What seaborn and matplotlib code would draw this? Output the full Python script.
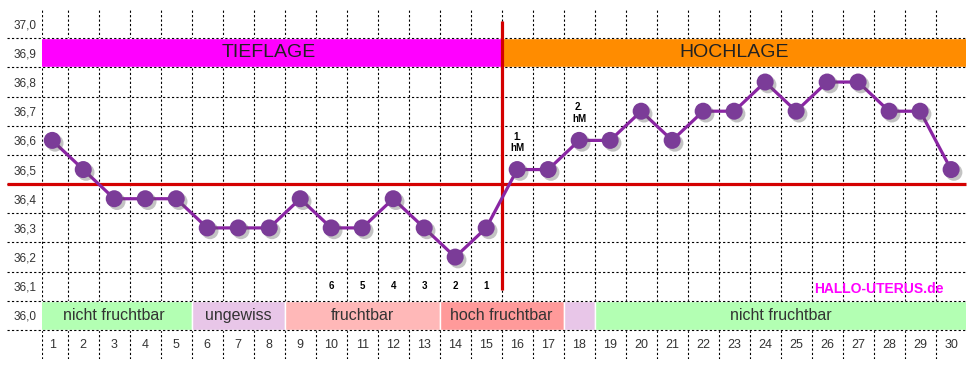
# Basaltemperatur-Kurve (NFP) - Zyklusblatt

import matplotlib
matplotlib.use('Agg')
import matplotlib.pyplot as plt
import matplotlib.patheffects as pe
import seaborn as sns

# Daten
days = list(range(1, 31))
temps = [36.6, 36.5, 36.4, 36.4, 36.4, 36.3, 36.3, 36.3, 36.4, 36.3,
         36.3, 36.4, 36.3, 36.2, 36.3, 36.5, 36.5, 36.6, 36.6, 36.7,
         36.6, 36.7, 36.7, 36.8, 36.7, 36.8, 36.8, 36.7, 36.7, 36.5]

ytick_values = [36.0, 36.1, 36.2, 36.3, 36.4, 36.5, 36.6, 36.7, 36.8, 36.9, 37.0]
ytick_labels = ['36,0', '36,1', '36,2', '36,3', '36,4', '36,5', '36,6', '36,7', '36,8', '36,9', '37,0']

# Lage-Balken oben (Tieflage / Hochlage)
phase_labels = ['TIEFLAGE', 'HOCHLAGE']
phase_start = [0.5, 15.5]
phase_end = [15.5, 30.5]
phase_colors = ['#ff00ff', '#ff8c00']

# Fruchtbarkeits-Balken unten
fert_labels = ['nicht fruchtbar', 'ungewiss', 'fruchtbar', 'hoch fruchtbar', '', 'nicht fruchtbar']
fert_start = [0.5, 5.5, 8.5, 13.5, 17.5, 18.5]
fert_end = [5.5, 8.5, 13.5, 17.5, 18.5, 30.5]
fert_colors = ['#b3ffb3', '#e8c6e8', '#ffb8b8', '#ff9a9a', '#e8c6e8', '#b3ffb3']

# Countdown-Tage vor dem Anstieg
count_days = [10, 11, 12, 13, 14, 15]
count_labels = ['6', '5', '4', '3', '2', '1']

# hoehere Messungen
hm_days = [16, 18]
hm_labels = ['1.\nhM', '2.\nhM']

coverline = 36.45
shift_day = 15.5

sns.set_style('white')
plt.rcParams['font.family'] = ['Liberation Sans', 'DejaVu Sans']

fig = plt.figure(figsize=(9.73, 3.68), dpi=100)
ax = fig.add_axes([0.0429, 0.0239, 0.9499, 0.9514])
ax.set_xlim(0.661, 30.48)
ax.set_ylim(35.85, 37.05)
for s in ax.spines.values():
    s.set_visible(False)

# Raster
vx = [0.661] + [d + 0.5 for d in days[:-1]]
ax.vlines(vx, 35.85, 37.05, colors='black', linestyles=(0, (2, 2)), linewidth=0.8, zorder=1)
hy = [35.95 + 0.1 * i for i in range(11)]
ax.hlines(hy, -0.46, 30.48, colors='black', linestyles=(0, (2, 2)), linewidth=0.8,
          zorder=3, clip_on=False)

# Balken
for lab, a, b, c in zip(phase_labels, phase_start, phase_end, phase_colors):
    ax.barh(36.9, b - a, left=a, height=0.1, color=c, zorder=2)
    ax.text((a + b) / 2, 36.9, lab, ha='center', va='center', fontsize=14, color='#222222', zorder=4)
for lab, a, b, c in zip(fert_labels, fert_start, fert_end, fert_colors):
    ax.barh(36.0, b - a, left=a, height=0.1, color=c, zorder=2)
    ax.text((a + b) / 2, 36.0, lab, ha='center', va='center', fontsize=11.5, color='#333333', zorder=4)

# Tage
for d in days:
    ax.text(d, 35.9, str(d), ha='center', va='center', fontsize=9, color='#333333')

ax.set_yticks(ytick_values)
ax.set_yticklabels(ytick_labels, fontsize=8.5, color='#333333')
ax.tick_params(axis='y', length=0, pad=4)
ax.set_xticks([])

# Hilfslinien
ax.hlines(coverline, -0.46, 30.48, colors='#d40000', linewidth=2.3, zorder=5, clip_on=False)
ax.vlines(shift_day, 36.087, 37.01, colors='#d40000', linewidth=2.3, zorder=5)

# Temperaturkurve
sns.lineplot(x=days, y=temps, ax=ax, color='#8a25a3', linewidth=2.3, zorder=6)
sns.scatterplot(x=days, y=temps, ax=ax, s=150, color='#7b3c98', edgecolor='none', zorder=7,
                path_effects=[pe.SimplePatchShadow(offset=(2, -2), shadow_rgbFace='#555555', alpha=0.35),
                              pe.Normal()])

for d, lab in zip(count_days, count_labels):
    ax.text(d, 36.1, lab, ha='center', va='center', fontsize=7, fontweight='bold', color='black')
for d, lab in zip(hm_days, hm_labels):
    y = temps[days.index(d)] + 0.093
    ax.text(d, y, lab, ha='center', va='center', fontsize=7, fontweight='bold',
            color='black', linespacing=1.2)

ax.text(29.75, 36.09, 'HALLO-UTERUS.de', ha='right', va='center', fontsize=10,
        fontweight='bold', color='#ff00ff', zorder=8)

fig.savefig('out.png', dpi=100)
